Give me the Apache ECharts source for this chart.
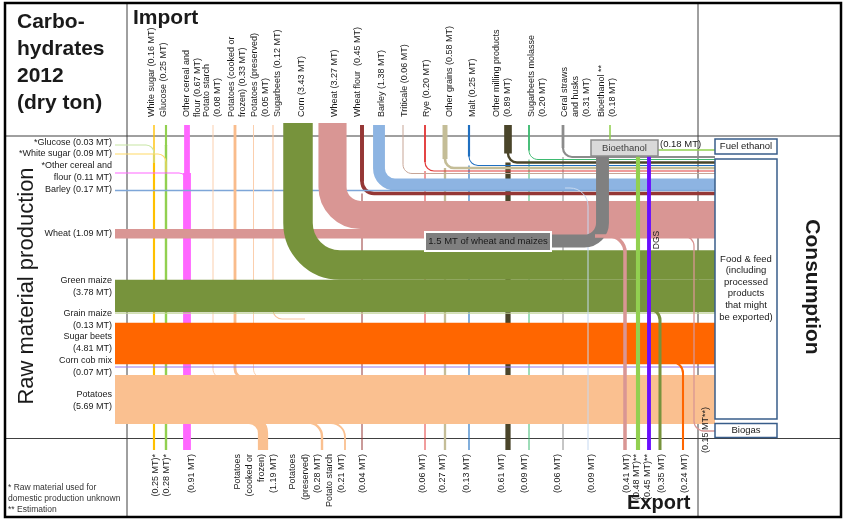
<!DOCTYPE html>
<html><head><meta charset="utf-8">
<script src="https://cdn.jsdelivr.net/npm/echarts@6/dist/echarts.min.js"></script>
<style>html,body{margin:0;padding:0;background:#fff}#c{width:850px;height:520px}</style>
</head><body><div id="c"></div>
<script>
// ================= DATA =================
const importLabels = [['White sugar (0.16 MT)'],['Glucose (0.25 MT)'],['Other cereal and','flour (0.67 MT)'],['Potato starch','(0.08 MT)'],['Potatoes (cooked or','frozen) (0.33 MT)'],['Potatoes (preserved)','(0.05 MT)'],['Sugarbeets (0.12 MT)'],['Corn (3.43 MT)'],['Wheat (3.27 MT)'],['Wheat flour  (0.45 MT)'],['Barley (1.38 MT)'],['Triticale (0.06 MT)'],['Rye (0.20 MT)'],['Other grains (0.58 MT)'],['Malt (0.25 MT)'],['Other milling products','(0.89 MT)'],['Sugarbeets molasse','(0.20 MT)'],['Ceral straws','and husks','(0.31 MT)'],['Bioethanol **','(0.18 MT)']];
const importValues = [0.16,0.25,0.67,0.08,0.33,0.05,0.12,3.43,3.27,0.45,1.38,0.06,0.20,0.58,0.25,0.89,0.20,0.31,0.18];

const rawLabels = [['*Glucose (0.03 MT)'],['*White sugar (0.09 MT)'],['*Other cereal and','flour (0.11 MT)'],['Barley (0.17 MT)'],['Wheat (1.09 MT)'],['Green maize','(3.78 MT)'],['Grain maize','(0.13 MT)'],['Sugar beets','(4.81 MT)'],['Corn cob mix','(0.07 MT)'],['Potatoes','(5.69 MT)']];
const rawValues = [0.03,0.09,0.11,0.17,1.09,3.78,0.13,4.81,0.07,5.69];

const exportLabels = [['(0.25 MT)*'],['(0.28 MT)*'],['(0.91 MT)'],['Potatoes','(cooked or','frozen)','(1.19 MT)'],['Potatoes','(preserved)','(0.28 MT)'],['Potato starch','(0.21 MT)'],['(0.04 MT)'],['(0.06 MT)'],['(0.27 MT)'],['(0.13 MT)'],['(0.61 MT)'],['(0.09 MT)'],['(0.06 MT)'],['(0.09 MT)'],['(0.41 MT)'],['(0.48 MT)**'],['(0.45 MT)**'],['(0.35 MT)'],['(0.24 MT)'],['(0.15 MT**)']];
const exportValues = [0.25,0.28,0.91,1.19,0.28,0.21,0.04,0.06,0.27,0.13,0.61,0.09,0.06,0.09,0.41,0.48,0.45,0.35,0.24,0.15];

const grainToBioethanol = 1.5;   // MT of wheat and maizes
const fuelEthanol = 0.18;        // MT
const consumptionLabels = ['Fuel ethanol', 'Food & feed\n(including\nprocessed\nproducts\nthat might\nbe exported)', 'Biogas'];

// ================= LAYOUT / STYLE =================
const K = 8.6; // px per MT
const FONT = "'Liberation Sans', Arial, sans-serif";
const importX     = [154,166,187,213,235,253.5,273,298,332.5,362,379,403,425,445,469,508,529,563,610];
const importTurnY = [154,145,173,378,378,378,319,265,215,193.5,184.5,173.5,171,168,165.5,162.5,159.5,157,140];
const importTurnR = [0,0,0,9,9,9,9,42,28,12,16,9,9,9,9,9,9,9,0];
const importExp   = [0,1,2,-1,-1,-1,-1,-1,-1,6,-1,-1,7,8,9,10,11,12,-1];
const importColor = ['#FFC000','#92D050','#FF66FF','#FBCFAE','#F9BC8C','#FBCFAE','#F9C39C','#77933C','#D99694','#953735','#8DB4E2','#C7A596','#E23B3B','#C4BD97','#1F6FC0','#4A452A','#3DBA70','#8C8C8C','#92D050'];
const importLabelX = [152,164,187,207,232,255,278,302,335,358,382,405,427,450,473,497,532,565,602];
const importLabelStep = 11;

const rawY = [145,154,173,190.5,233.7,296,313.3,343.5,367,399.5];
const rawColor = ['#C8E6A4','#FFD966','#FF66FF','#7EA6D8','#D99694','#77933C','#C3D69B','#FF6600','#9A7BEA','#FAC090'];
const rawLabelY = [143,154,166,190,234,281,314,337,361,395];
const rawLabelStep = 11.7;

const exportPaths = [null,null,null,
  {p:[[235,419],[263,419],[263,450]], r:14, c:'#FAC090'},
  {p:[[298,422.5],[322,422.5],[322,450]], r:14, c:'#FAC090'},
  {p:[[322,423],[345,423],[345,450]], r:14, c:'#FAC090'},
  null,null,null,null,null,null,null,
  {p:[[565,188],[588,188],[588,450]], r:18, c:'#C6D9F1'},
  {p:[[595,236],[625,236],[625,450]], r:16, c:'#D99694'},
  {p:[[638,156],[638,450]], r:0, c:'#92D050'},
  {p:[[649,156],[649,450]], r:0, c:'#6A0DFF'},
  {p:[[640,309],[660,309],[660,450]], r:11, c:'#77933C'},
  {p:[[665,362],[683,362],[683,450]], r:11, c:'#FF6600'},
  {p:[[670,236],[694,236],[694,431],[715,431]], r:10, c:'#D99694'}
];
const exportLabelX = [156,167,192,238,293,330,363,423,443,467,502,525,558,592,627,637,648,662,685,706];
const exportLabelStep = [0,0,0,11.7,12.5,12,0,0,0,0,0,0,0,0,0,0,0,0,0,0];

// ================= BUILD MARKS =================
const marks = [];
const flow = (pts, r, v, color, minW) => marks.push({t:'flow', pts, r, v, color, minW: minW || 1});
const seg = (pts, w, color) => marks.push({t:'seg', pts, w, color});
const rect = (x,y,w,h,fill,stroke,lw) => marks.push({t:'rect',x,y,w,h,fill,stroke,lw});
const text = (x,y,s,o) => marks.push(Object.assign({t:'text',x,y,s}, o||{}));

// frame inner lines
seg([[127,3],[127,517]], 1, '#404040');
seg([[698,3],[698,517]], 1, '#404040');
seg([[5,136],[841,136]], 1, '#404040');
seg([[5,438.5],[841,438.5]], 1, '#404040');

// export continuations of imports (under the bands)
importValues.forEach((v,i) => {
  const e = importExp[i];
  if (e < 0) return;
  const x = importX[i], y0 = importTurnY[i];
  flow([[x,y0],[x,450]], 0, exportValues[e], importColor[i]);
});
// straight import stubs (white sugar, glucose, other cereal)
[0,1,2].forEach(i => flow([[importX[i],125],[importX[i],importTurnY[i]+1]], 0, importValues[i], importColor[i]));
// domestic raw materials joining import columns
[0,1,2].forEach(i => flow([[115,rawY[i]],[importX[i],rawY[i]],[importX[i],rawY[i]+18]], 8, rawValues[i], rawColor[i], 1.2));

// top stack of imports that turn to Food & feed (thin ones)
[17,16,15,14,13,12,11,10,9].forEach(i => {
  const e = importExp[i];
  const x = importX[i], cy = importTurnY[i];
  const vTurn = importValues[i] - (e >= 0 ? exportValues[e] : 0);
  flow([[x,125],[x,cy],[715,cy]], importTurnR[i], vTurn, importColor[i]);
  if (e >= 0) flow([[x,125],[x,cy - importTurnR[i]]], 0, importValues[i], importColor[i]);
});
// barley production line
flow([[115,rawY[3]],[715,rawY[3]]], 0, rawValues[3], rawColor[3], 1.4);

// potato & sugar beet imports joining the raw bands
[3,4,5].forEach(i => flow([[importX[i],125],[importX[i],importTurnY[i]],[importX[i]+30,importTurnY[i]]], importTurnR[i], importValues[i], importColor[i]));
flow([[importX[6],125],[importX[6],importTurnY[6]],[305,importTurnY[6]]], importTurnR[6], importValues[6], importColor[6]);

// raw material bands
[4,5,6,7,8,9].forEach(i => flow([[115,rawY[i]],[715,rawY[i]]], 0, rawValues[i], rawColor[i], 1.1));
// potato exports branching from the potato band
[3,4,5].forEach(e => flow(exportPaths[e].p, exportPaths[e].r, exportValues[e], exportPaths[e].c));

// big imports: wheat, corn
flow([[importX[8],123],[importX[8],importTurnY[8]],[715,importTurnY[8]]], importTurnR[8], importValues[8], importColor[8]);
flow([[importX[7],123],[importX[7],importTurnY[7]],[715,importTurnY[7]]], importTurnR[7], importValues[7], importColor[7]);

// right side exports
flow(exportPaths[13].p, exportPaths[13].r, exportValues[13], exportPaths[13].c);
flow([[551,241],[602.5,241],[602.5,156]], 18, grainToBioethanol, '#808080');
flow(exportPaths[14].p, exportPaths[14].r, exportValues[14], exportPaths[14].c);
[17,18,19].forEach(e => flow(exportPaths[e].p, exportPaths[e].r, exportValues[e], exportPaths[e].c, 1.2));
[15,16].forEach(e => flow(exportPaths[e].p, exportPaths[e].r, exportValues[e], exportPaths[e].c));
// bioethanol import & fuel ethanol
flow([[importX[18],125],[importX[18],140]], 0, importValues[18], importColor[18], 1.5);
flow([[658,150],[715,150]], 0, fuelEthanol, '#92D050', 1.5);

// boxes
rect(425,232,126,19,'#7F7F7F','#ffffff',2);
text(488,241.5,'1.5 MT of wheat and maizes',{size:9.5,align:'center',color:'#1a1a1a'});
rect(591,140,67,16,'#D9D9D9','#8C8C8C',1.5);
text(624.5,148.5,'Bioethanol',{size:9.5,align:'center',color:'#404040'});
rect(715,139,62,15,'#ffffff','#385D8A',1.5);
text(746,146.5,consumptionLabels[0],{size:9.5,align:'center'});
rect(715,159,62,260,'#ffffff','#385D8A',1.5);
text(746,288,consumptionLabels[1],{size:9.5,align:'center',lh:11.6});
rect(715,423.5,62,14,'#ffffff','#385D8A',1.5);
text(746,430.5,consumptionLabels[2],{size:9.5,align:'center'});
text(660,144,'(' + fuelEthanol.toFixed(2) + ' MT)',{size:9.5});
text(657,240,'DGS',{size:8.5,align:'center',rot:Math.PI/2});

// import labels (rotated)
importLabels.forEach((lines,i) => lines.forEach((s,j) =>
  text(importLabelX[i] + j*importLabelStep, 117, s, {size:9, rot:Math.PI/2, align:'left'})));
// raw labels
rawLabels.forEach((lines,i) => lines.forEach((s,j) =>
  text(112, rawLabelY[i] + j*rawLabelStep, s, {size:9, align:'right'})));
// export labels
exportLabels.forEach((lines,i) => lines.forEach((s,j) => {
  if (i === 19) text(exportLabelX[i], 453, s, {size:9, rot:Math.PI/2, align:'left'});
  else text(exportLabelX[i] + j*exportLabelStep[i], 454, s, {size:9, rot:Math.PI/2, align:'right'});
}));

// titles
['Carbo-','hydrates','2012','(dry ton)'].forEach((s,j) => text(17, 22 + j*27, s, {size:21, weight:'bold'}));
text(133,18,'Import',{size:21, weight:'bold'});
text(627,503,'Export',{size:20, weight:'bold'});
text(812,287,'Consumption',{size:21, weight:'bold', align:'center', rot:-Math.PI/2});
text(27,286,'Raw material production',{size:22, align:'center', rot:Math.PI/2});
text(8,488,'* Raw material used for',{size:8.5,color:'#333'});
text(8,499,'domestic production unknown',{size:8.5,color:'#333'});
text(8,510,'** Estimation',{size:8.5,color:'#333'});

// outer frame
rect(5,3,836,514,'none','#000000',2.5);

// ================= RENDER =================
function roundedPath(P, r) {
  let d = 'M' + P[0][0] + ',' + P[0][1];
  for (let i = 1; i < P.length - 1; i++) {
    const a = P[i-1], b = P[i], c = P[i+1];
    const l1 = Math.hypot(b[0]-a[0], b[1]-a[1]), l2 = Math.hypot(c[0]-b[0], c[1]-b[1]);
    const d1 = [(b[0]-a[0])/l1, (b[1]-a[1])/l1], d2 = [(c[0]-b[0])/l2, (c[1]-b[1])/l2];
    const rr = Math.min(r, l1, l2);
    const s = [b[0]-d1[0]*rr, b[1]-d1[1]*rr], e = [b[0]+d2[0]*rr, b[1]+d2[1]*rr];
    const k = 0.5523 * rr;
    d += ' L' + s[0] + ',' + s[1] + ' C' + (s[0]+d1[0]*k) + ',' + (s[1]+d1[1]*k) + ' ' +
         (e[0]-d2[0]*k) + ',' + (e[1]-d2[1]*k) + ' ' + e[0] + ',' + e[1];
  }
  const L = P[P.length-1];
  d += ' L' + L[0] + ',' + L[1];
  return d;
}

function renderItem(params, api) {
  const m = marks[params.dataIndex];
  const unit = api.size([1, 1]);
  if (m.t === 'flow' || m.t === 'seg') {
    const P = m.pts.map(p => api.coord(p));
    const w = m.t === 'flow' ? Math.max(m.minW, m.v * K) * unit[1] : m.w;
    return {type:'path', shape:{pathData: roundedPath(P, (m.r || 0) * unit[0])},
      style:{fill:'none', stroke:m.color, lineWidth:w, lineCap:'butt', lineJoin:'miter'}};
  }
  if (m.t === 'rect') {
    const p0 = api.coord([m.x, m.y]), s = api.size([m.w, m.h]);
    return {type:'rect', shape:{x:p0[0], y:p0[1], width:s[0], height:s[1]},
      style:{fill:m.fill === 'none' ? null : m.fill, stroke:m.stroke, lineWidth:m.lw}};
  }
  const p = api.coord([m.x, m.y]);
  return {type:'text', x:p[0], y:p[1], rotation:m.rot || 0,
    style:{text:m.s, x:0, y:0, fontSize:m.size, fontFamily:FONT, fontWeight:m.weight || 'normal',
      fill:m.color || '#1a1a1a', align:m.align || 'left', verticalAlign:'middle', lineHeight:m.lh || undefined}};
}

const chart = echarts.init(document.getElementById('c'), null, {renderer:'canvas'});
chart.setOption({
  animation:false,
  grid:{left:0, right:0, top:0, bottom:0},
  xAxis:{type:'value', min:0, max:850, show:false},
  yAxis:{type:'value', min:0, max:520, inverse:true, show:false},
  series:[{type:'custom', coordinateSystem:'cartesian2d', clip:false, silent:true,
    renderItem, data: marks.map((m,i) => [425, 260, i])}]
});
</script></body></html>
